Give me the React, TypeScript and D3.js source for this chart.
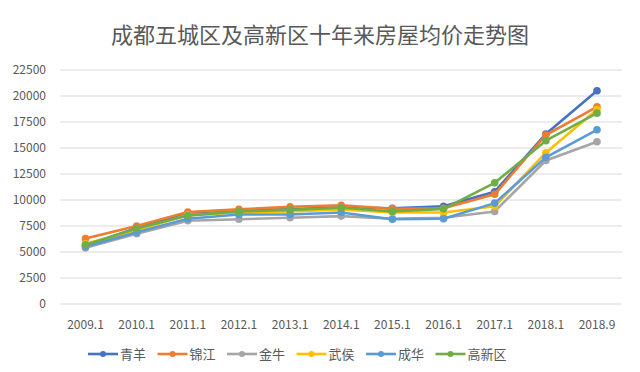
import { useRef, useEffect } from "react";
import { select, scaleLinear, scalePoint, line, range } from "d3";

const periods = ["2009.1", "2010.1", "2011.1", "2012.1", "2013.1", "2014.1", "2015.1", "2016.1", "2017.1", "2018.1", "2018.9"];
const yTicks = [0, 2500, 5000, 7500, 10000, 12500, 15000, 17500, 20000, 22500];

const qingyang = [5600, 7300, 8700, 9000, 9100, 9300, 9200, 9400, 10800, 16350, 20500];
const jinjiang = [6300, 7500, 8850, 9100, 9350, 9500, 9150, 9200, 10550, 16250, 18950];
const jinniu = [5400, 6750, 8000, 8150, 8300, 8450, 8200, 8300, 8900, 13800, 15600];
const wuhou = [5800, 7100, 8550, 8800, 8900, 9100, 8800, 8800, 9400, 14550, 18700];
const chenghua = [5500, 6900, 8200, 8600, 8600, 8800, 8150, 8200, 9700, 14100, 16750];
const gaoxin = [5700, 7250, 8500, 8900, 9050, 9250, 8900, 9150, 11650, 15700, 18350];

const series = [
  { name: "青羊", values: qingyang, color: "#4472C4" },
  { name: "锦江", values: jinjiang, color: "#ED7D31" },
  { name: "金牛", values: jinniu, color: "#A5A5A5" },
  { name: "武侯", values: wuhou, color: "#FFC000" },
  { name: "成华", values: chenghua, color: "#5B9BD5" },
  { name: "高新区", values: gaoxin, color: "#70AD47" },
];

const W = 640;
const H = 372;
const font = "'Noto Sans CJK SC', 'Noto Sans', sans-serif";

export default function App() {
  const svgRef = useRef<SVGSVGElement>(null);

  useEffect(() => {
    const svg = select(svgRef.current);
    svg.selectAll("*").remove();

    const x = scalePoint<string>().domain(periods).range([85.5, 597]);
    const y = scaleLinear().domain([0, 22500]).range([304, 70]);

    // gridlines
    svg
      .append("g")
      .selectAll("line")
      .data(yTicks)
      .join("line")
      .attr("x1", 60)
      .attr("x2", 622)
      .attr("y1", (d) => y(d))
      .attr("y2", (d) => y(d))
      .attr("stroke", "#d9d9d9")
      .attr("stroke-width", 1);

    // y labels
    svg
      .append("g")
      .selectAll("text")
      .data(yTicks)
      .join("text")
      .attr("x", 46)
      .attr("y", (d) => y(d))
      .attr("dy", "0.35em")
      .attr("text-anchor", "end")
      .attr("font-size", 12)
      .attr("font-family", font)
      .attr("fill", "#595959")
      .text((d) => String(d));

    // x labels
    svg
      .append("g")
      .selectAll("text")
      .data(periods)
      .join("text")
      .attr("x", (d) => x(d)!)
      .attr("y", 325)
      .attr("dy", "0.35em")
      .attr("text-anchor", "middle")
      .attr("font-size", 12)
      .attr("font-family", font)
      .attr("fill", "#595959")
      .text((d) => d);

    const path = line<number>()
      .x((_, i) => x(periods[i])!)
      .y((d) => y(d));

    series.forEach((s) => {
      const g = svg.append("g");
      g.append("path")
        .attr("d", path(s.values))
        .attr("fill", "none")
        .attr("stroke", s.color)
        .attr("stroke-width", 2.6)
        .attr("stroke-linejoin", "round");
      g.selectAll("circle")
        .data(s.values)
        .join("circle")
        .attr("cx", (_, i) => x(periods[i])!)
        .attr("cy", (d) => y(d))
        .attr("r", 3.8)
        .attr("fill", s.color);
    });

    // legend
    const legend = svg.append("g");
    const starts = range(series.length).map((i) => 88 + i * 69.5);
    series.forEach((s, i) => {
      const lx = starts[i];
      legend
        .append("line")
        .attr("x1", lx)
        .attr("x2", lx + 30)
        .attr("y1", 354)
        .attr("y2", 354)
        .attr("stroke", s.color)
        .attr("stroke-width", 2.6);
      legend.append("circle").attr("cx", lx + 15).attr("cy", 354).attr("r", 3).attr("fill", s.color);
      legend
        .append("text")
        .attr("x", lx + 32)
        .attr("y", 354)
        .attr("dy", "0.35em")
        .attr("font-size", 13)
        .attr("font-family", font)
        .attr("fill", "#595959")
        .text(s.name);
    });

    // title
    svg
      .append("text")
      .attr("x", 320)
      .attr("y", 35)
      .attr("dy", "0.35em")
      .attr("text-anchor", "middle")
      .attr("font-size", 22)
      .attr("font-family", font)
      .attr("fill", "#595959")
      .text("成都五城区及高新区十年来房屋均价走势图");
  }, []);

  return (
    <svg
      ref={svgRef}
      width={W}
      height={H}
      style={{ position: "absolute", left: 0, top: 0, background: "#fff" }}
    />
  );
}
